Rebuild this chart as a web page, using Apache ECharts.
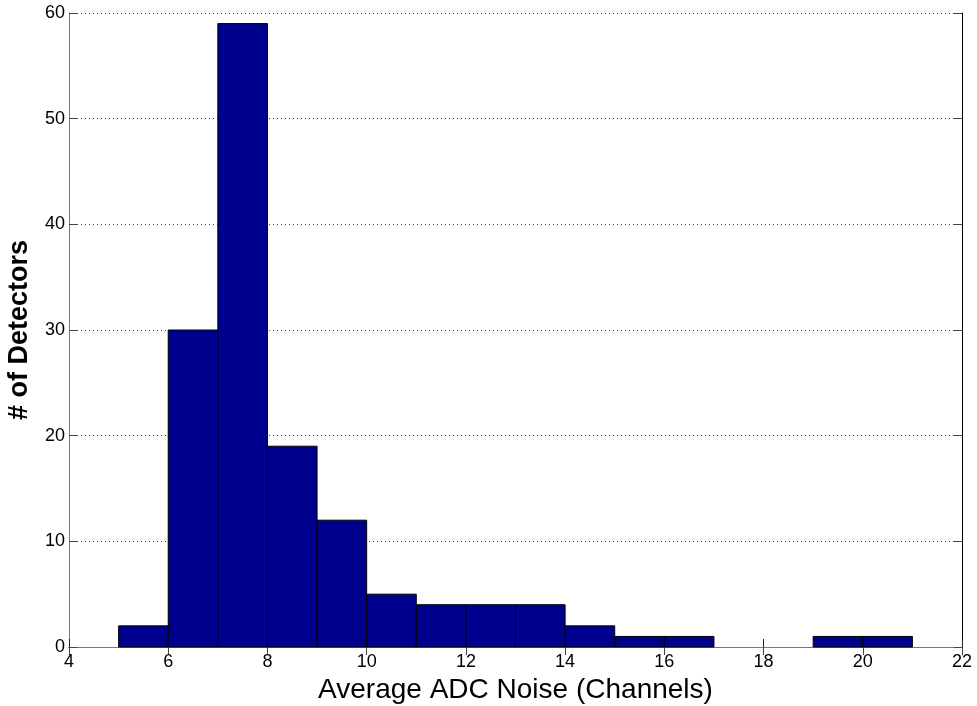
<!DOCTYPE html>
<html>
<head>
<meta charset="utf-8">
<style>
  html, body { margin: 0; padding: 0; background: #fff; }
  #chart { width: 977px; height: 706px; }
</style>
<script src="https://cdn.jsdelivr.net/npm/echarts@6/dist/echarts.min.js"></script>
</head>
<body>
<div id="chart"></div>
<script>
// Histogram bins: each bin spans [binStart, binStart + 1)
const binStarts = [5, 6, 7, 8, 9, 10, 11, 12, 13, 14, 15, 16, 17, 18, 19, 20];
const counts    = [2, 30, 59, 19, 12, 5, 4, 4, 4, 2, 1, 1, 0, 0, 1, 1];
const binWidth = 1;

const xTicks = [4, 6, 8, 10, 12, 14, 16, 18, 20, 22];
const yTicks = [0, 10, 20, 30, 40, 50, 60];

const xLabel = 'Average ADC Noise (Channels)';
const yLabel = '# of Detectors';

const histData = binStarts.map((s, i) => [s, s + binWidth, counts[i]]);

const chart = echarts.init(document.getElementById('chart'), null, { renderer: 'canvas' });

const fontFamily = 'Liberation Sans, Arial, sans-serif';
const boxGray = '#777';
const boxDark = '#222';

chart.setOption({
  animation: false,
  backgroundColor: '#fff',
  grid: { left: 69, right: 15, top: 13, bottom: 59, containLabel: false, outerBoundsMode: 'none' },
  xAxis: [
    {
      type: 'value',
      min: xTicks[0], max: xTicks[xTicks.length - 1], interval: 2,
      name: xLabel, nameLocation: 'middle', nameGap: 28,
      nameTextStyle: { fontFamily, fontSize: 28, color: '#000' },
      axisLine: { show: true, lineStyle: { color: boxDark, width: 1 } },
      axisTick: { show: true, inside: true, length: 8, lineStyle: { color: boxDark } },
      axisLabel: { fontFamily, fontSize: 18, color: '#000', margin: 6 },
      splitLine: { show: false }
    },
    {
      type: 'value', position: 'top',
      min: xTicks[0], max: xTicks[xTicks.length - 1], interval: 2,
      axisLine: { show: true, lineStyle: { color: boxGray, width: 1 } },
      axisTick: { show: true, inside: true, length: 8, lineStyle: { color: '#444' } },
      axisLabel: { show: false },
      splitLine: { show: false }
    }
  ],
  yAxis: [
    {
      type: 'value',
      min: yTicks[0], max: yTicks[yTicks.length - 1], interval: 10,
      name: yLabel, nameLocation: 'middle', nameGap: 36,
      nameTextStyle: { fontFamily, fontSize: 27, fontWeight: 'bold', color: '#000' },
      axisLine: { show: true, lineStyle: { color: boxGray, width: 1 } },
      axisTick: { show: true, inside: true, length: 8, lineStyle: { color: '#444' } },
      axisLabel: { fontFamily, fontSize: 18, color: '#000', margin: 4 },
      splitLine: { show: true, lineStyle: { color: '#444', width: 1, type: [1, 3] } }
    },
    {
      type: 'value', position: 'right',
      min: yTicks[0], max: yTicks[yTicks.length - 1], interval: 10,
      axisLine: { show: true, lineStyle: { color: '#000', width: 1 } },
      axisTick: { show: true, inside: true, length: 8, lineStyle: { color: '#444' } },
      axisLabel: { show: false },
      splitLine: { show: false }
    }
  ],
  series: [
    {
      type: 'custom',
      xAxisIndex: 0, yAxisIndex: 0,
      data: histData,
      encode: { x: [0, 1], y: 2 },
      renderItem: function (params, api) {
        const c = api.value(2);
        if (c <= 0) return null;
        const p0 = api.coord([api.value(0), 0]);
        const p1 = api.coord([api.value(1), c]);
        return {
          type: 'rect',
          shape: { x: p0[0], y: p1[1], width: p1[0] - p0[0], height: p0[1] - p1[1] },
          style: { fill: '#00008F', stroke: '#000', lineWidth: 1 }
        };
      }
    }
  ]
});
</script>
</body>
</html>
